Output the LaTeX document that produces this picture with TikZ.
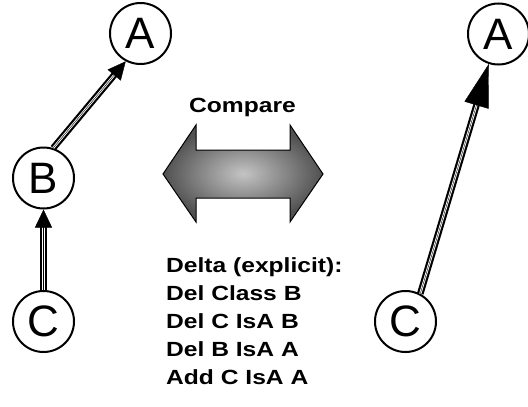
\documentclass[tikz,border=0pt]{standalone}
\usepackage{fontspec}
\setmainfont{Liberation Sans}
\newfontfamily\labfont[FakeStretch=1.2]{Liberation Sans}
\usetikzlibrary{arrows.meta}
\definecolor{arrowlight}{HTML}{C4C4C4}
\definecolor{arrowdark}{HTML}{505050}
\tikzset{
  cls/.style={circle, draw, line width=2pt, minimum size=61pt, inner sep=0pt,
              font=\fontsize{44}{44}\selectfont},
  shaft/.style={line width=2.2pt, double=white, double distance=2.2pt},
  tipsmall/.style={-{Triangle[length=18pt,width=17pt]}, line width=0.4pt},
  tipbig/.style={-{Triangle[length=43pt,width=25pt]}, line width=0.4pt},
  lab/.style={font=\labfont\bfseries\fontsize{20.5}{28}\selectfont, inner sep=0pt}
}
\begin{document}
\begin{tikzpicture}[x=1pt,y=-1pt]
\useasboundingbox (0,0) rectangle (528,407);
% left graph
\node[cls] (AL) at (140.5,33.5) {A};
\node[cls] (BL) at (43.5,178) {B};
\node[cls] (CL) at (43.5,321.5) {C};
% right graph
\node[cls] (AR) at (498.5,34) {A};
\node[cls] (CR) at (405.5,321.5) {C};
% left arrows
\draw[shaft, shorten >=16pt] (BL.72) -- (AL.242);
\draw[tipsmall] (BL.72) -- (AL.242);
\draw[shaft, shorten >=14pt] (CL.90) -- (BL.270);
\draw[tipsmall] (CL.90) -- (BL.270);
% right arrow
\draw[shaft, shorten >=41pt] (CR.62) -- (AR.252);
\draw[tipbig] (CR.62) -- (AR.252);
% compare double arrow
\shadedraw[inner color=arrowlight, outer color=arrowdark, draw=black, line width=1pt, line join=miter]
  (163,174) -- (196,125) -- (196,150) -- (290,150) -- (290,125) -- (323,174)
  -- (290,222) -- (290,198) -- (196,198) -- (196,222) -- cycle;
\node[lab, anchor=base] (cmp) at (242.5,112) {Compare};
\node[lab, anchor=base west, align=left] (delta) at (166,384)
  {Delta (explicit):\\Del Class B\\Del C IsA B\\Del B IsA A\\Add C IsA A};
\end{tikzpicture}
\end{document}
